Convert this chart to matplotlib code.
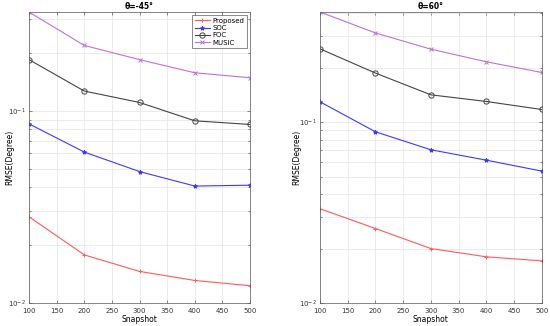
import matplotlib.pyplot as plt
from matplotlib.ticker import LogLocator, NullFormatter

plt.rcParams['font.family'] = ['DejaVu Sans']

snapshots = [100, 200, 300, 400, 500]

# theta = -45 deg
proposed_45 = [0.0281, 0.0178, 0.0146, 0.0131, 0.0123]
soc_45 = [0.0855, 0.0610, 0.0483, 0.0406, 0.0410]
foc_45 = [0.1846, 0.1267, 0.1105, 0.0887, 0.0849]
music_45 = [0.3266, 0.2188, 0.1846, 0.1577, 0.1486]

# theta = 60 deg
proposed_60 = [0.0332, 0.0258, 0.0200, 0.0180, 0.0171]
soc_60 = [0.1294, 0.0884, 0.0703, 0.0616, 0.0536]
foc_60 = [0.2540, 0.1866, 0.1415, 0.1300, 0.1174]
music_60 = [0.4060, 0.3110, 0.2530, 0.2155, 0.1880]

titles = ['θ=-45°', 'θ=60°']
labels = ['Proposed', 'SOC', 'FOC', 'MUSIC']

fig = plt.figure(figsize=(5.5, 3.26), dpi=100)
ax1 = fig.add_axes([29/550, 23/326, 221/550, 291/326])
ax2 = fig.add_axes([320/550, 23/326, 221.7/550, 291/326])


def draw(ax, data, title, top, legend, ylab_x):
    styles = [
        dict(color='#ff5a5a', marker='+', ms=3, mew=0.7),
        dict(color='#3a3aff', marker='*', ms=3, mew=0.7),
        dict(color='#444444', marker='o', ms=3.8, mew=0.7, mfc='none'),
        dict(color='#c070d8', marker='x', ms=2.5, mew=0.7),
    ]
    for y, lab, st in zip(data, labels, styles):
        ax.plot(snapshots, y, lw=0.8, label=lab, **st)
    ax.set_yscale('log')
    ax.set_xlim(100, 500)
    ax.set_ylim(0.01, top)
    ax.set_xticks(range(100, 501, 50))
    ax.yaxis.set_minor_locator(LogLocator(base=10, subs=range(2, 10)))
    ax.yaxis.set_minor_formatter(NullFormatter())
    ax.grid(True, which='both', color='#e3e3e3', lw=0.5)
    ax.set_axisbelow(True)
    ax.tick_params(which='both', direction='in', labelsize=5, colors='#333333',
                   length=2, width=0.4, top=True, right=True, pad=2.5)
    ax.tick_params(axis='x', pad=3.5)
    ax.tick_params(which='minor', length=1.2)
    for s in ax.spines.values():
        s.set_color('#555555')
        s.set_linewidth(0.5)
    ax.set_title(title, fontsize=5.5, fontweight='bold', pad=2)
    ax.set_xlabel('Snapshot', fontsize=5.5, labelpad=1)
    ax.set_ylabel('RMSE(Degree)', fontsize=5.5)
    ax.yaxis.set_label_coords(ylab_x, 0.5)
    if legend:
        leg = ax.legend(loc='upper right', fontsize=5, frameon=True, fancybox=False,
                        edgecolor='#333333', borderpad=0.3, labelspacing=0.2,
                        handlelength=2.2, handletextpad=0.4)
        leg.get_frame().set_linewidth(0.5)


draw(ax1, [proposed_45, soc_45, foc_45, music_45], titles[0], 0.3266, True, -0.065)
draw(ax2, [proposed_60, soc_60, foc_60, music_60], titles[1], 0.406, False, -0.085)

plt.savefig('out.png', dpi=100)
